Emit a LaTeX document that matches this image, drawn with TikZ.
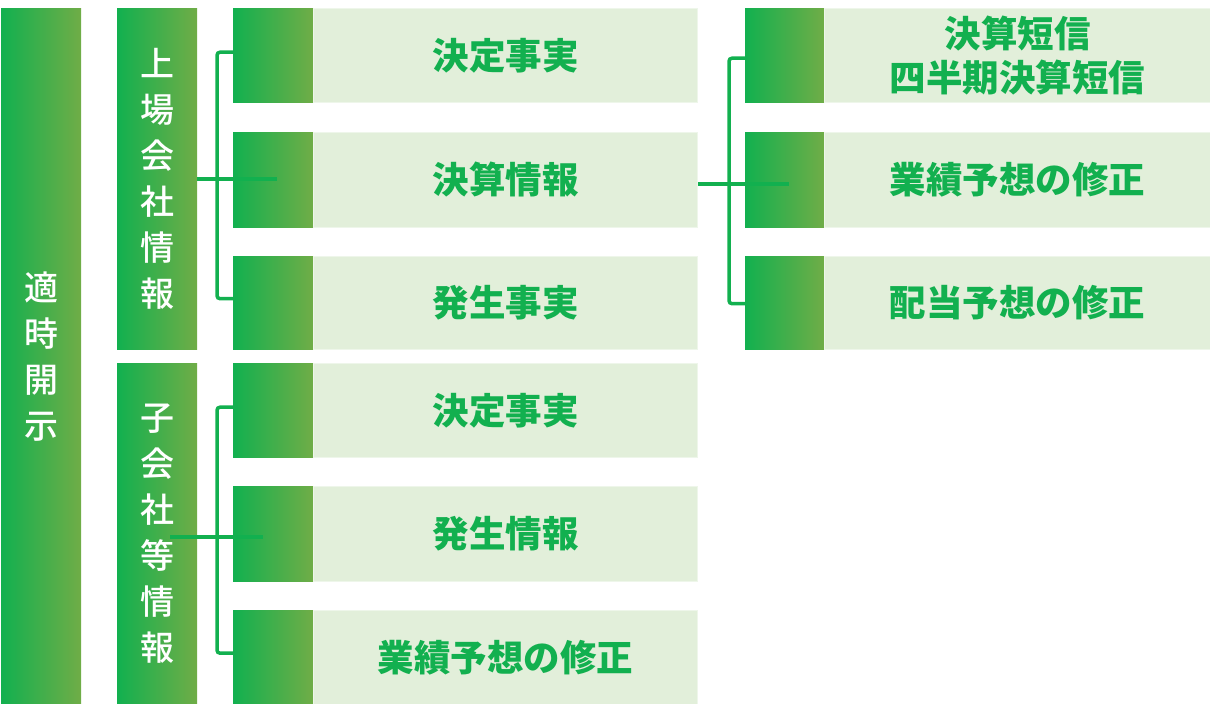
\documentclass[tikz,border=0pt]{standalone}
\usepackage{fontspec}
\newfontfamily\jp{Noto Sans CJK JP}
\newfontfamily\jpm{Noto Sans CJK JP Medium}
\definecolor{dkgreen}{HTML}{12B04F}
\definecolor{olgreen}{HTML}{70AD47}
\definecolor{palegreen}{HTML}{E2EFDA}
\definecolor{rimgreen}{HTML}{EEF6EA}
\begin{document}
\begin{tikzpicture}[x=1pt,y=-1pt,
		grad/.style={anchor=north west,inner sep=0pt,left color=dkgreen,right color=olgreen,minimum width=80pt},
		col/.style={grad,text=white,align=center,font=\jpm\fontsize{34}{46}\selectfont},
		lite/.style={anchor=north west,inner sep=0pt,fill=palegreen,draw=rimgreen,line width=1pt,text=dkgreen,align=center,font=\jp\bfseries\fontsize{36.5}{44}\selectfont},
		conn/.style={draw=dkgreen,line width=3.5pt,rounded corners=3pt}]
%			\draw[step=10,red,very thin] (0,0) grid (1210,704);
			\useasboundingbox (0,0) rectangle (1210,704);

			% columns
			\node[col,minimum height=696pt](tj)at(1,8) {適\\時\\開\\示};
			\node[col,minimum height=341pt](ls)at(117,8) {上\\場\\会\\社\\情\\報};
			\node[col,minimum height=341pt](ks)at(117,363) {子\\会\\社\\等\\情\\報};

			% middle items
			\node[grad,minimum height=94pt](g1)at(233,8) {};
			\node[lite,minimum width=384pt,minimum height=94pt](b1)at(313,8) {決定事実};
			\node[grad,minimum height=95pt](g2)at(233,132) {};
			\node[lite,minimum width=384pt,minimum height=95pt](b2)at(313,132) {決算情報};
			\node[grad,minimum height=93pt](g3)at(233,256) {};
			\node[lite,minimum width=384pt,minimum height=93pt](b3)at(313,256) {発生事実};

			\node[grad,minimum height=94pt](g4)at(233,363) {};
			\node[lite,minimum width=384pt,minimum height=94pt](b4)at(313,363) {決定事実};
			\node[grad,minimum height=95pt](g5)at(233,486) {};
			\node[lite,minimum width=384pt,minimum height=95pt](b5)at(313,486) {発生情報};
			\node[grad,minimum height=94pt](g6)at(233,610) {};
			\node[lite,minimum width=384pt,minimum height=94pt](b6)at(313,610) {業績予想の修正};

			% right items
			\node[grad,minimum width=79pt,minimum height=94pt](h1)at(745,8) {};
			\node[lite,minimum width=386pt,minimum height=94pt](r1)at(824,8) {決算短信\\四半期決算短信};
			\node[grad,minimum width=79pt,minimum height=95pt](h2)at(745,132) {};
			\node[lite,minimum width=386pt,minimum height=95pt](r2)at(824,132) {業績予想の修正};
			\node[grad,minimum width=79pt,minimum height=93pt](h3)at(745,256) {};
			\node[lite,minimum width=386pt,minimum height=93pt](r3)at(824,256) {配当予想の修正};

			% connectors
			\coordinate (e1) at (277,179);
			\coordinate (e2) at (263,537);
			\coordinate (e3) at (789,184);
			\draw[conn](ls.east |- e1)--(e1);
			\draw[conn]([yshift=3pt]g1.west)--++(-16,0)|-([yshift=4pt]g3.west);
			\draw[conn]([xshift=-27pt]ks.east |- e2)--(e2);
			\draw[conn]([yshift=3pt]g4.west)--++(-16,0)|-([yshift=4pt]g6.west);
			\draw[conn](b2.east |- e3)--(e3);
			\draw[conn]([yshift=-3pt]h1.west)--++(-16,0)|-([yshift=-1pt]h3.west);
	\end{tikzpicture}
\end{document}
